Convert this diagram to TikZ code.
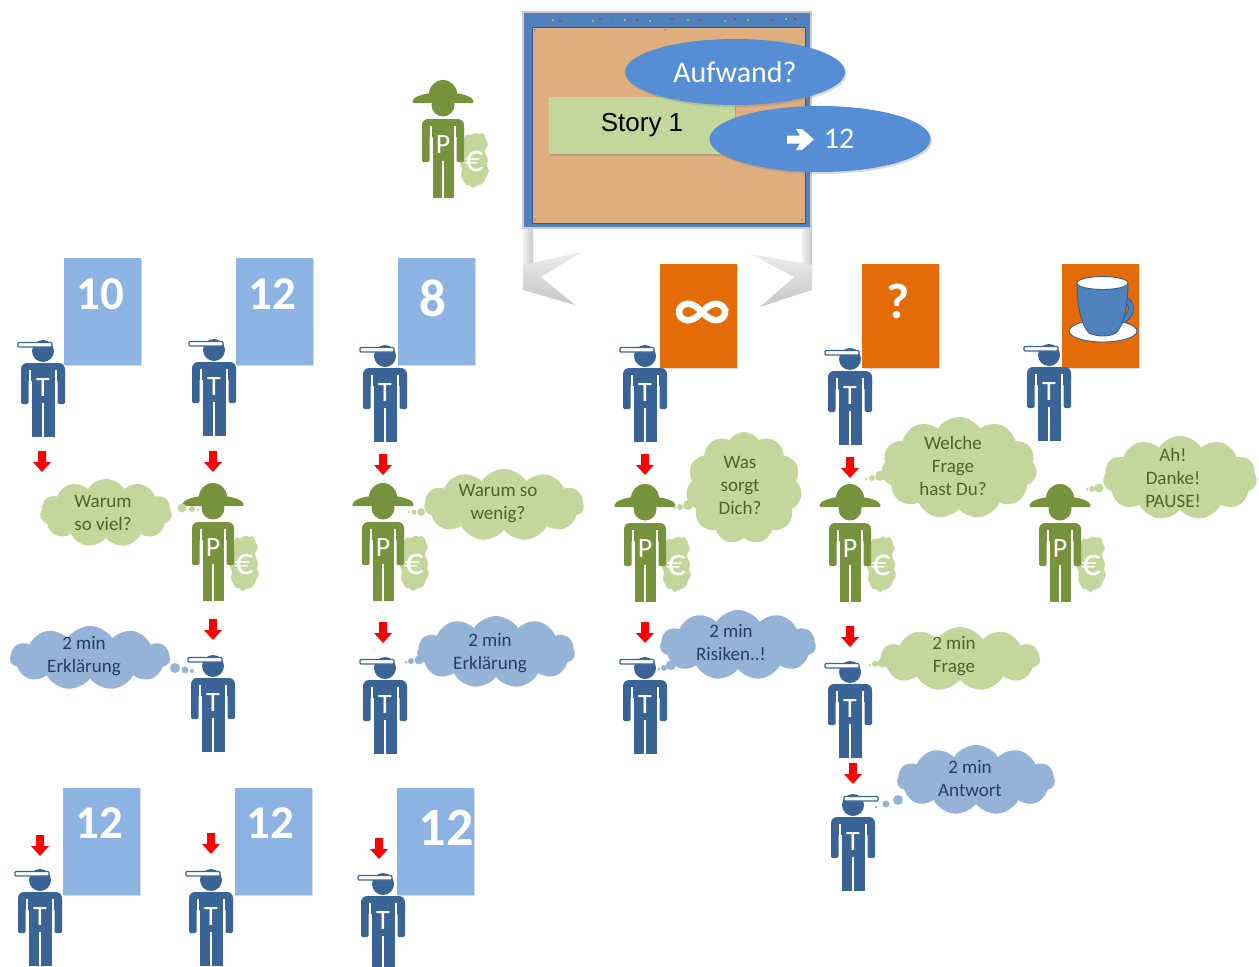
\documentclass[tikz,border=0pt]{standalone}
\usepackage{fontspec}
\setmainfont{Carlito}
\newfontfamily\arialfont{Liberation Sans}
\usetikzlibrary{shapes.symbols,shapes.geometric,shadows,calc}

\definecolor{tblue}{HTML}{3B6496}
\definecolor{pgreen}{HTML}{76923C}
\definecolor{lgreen}{HTML}{C3D69B}
\definecolor{lblue}{HTML}{95B3D7}
\definecolor{cardblue}{HTML}{8DB3E2}
\definecolor{cardorange}{HTML}{E36C09}
\definecolor{eblue}{HTML}{558ED5}
\definecolor{boardblue}{HTML}{4F81BD}
\definecolor{cork}{HTML}{DFAE7E}
\definecolor{gtext}{HTML}{4F6228}
\definecolor{btext}{HTML}{244061}
\definecolor{cupedge}{HTML}{385D8A}

\tikzset{
  % team member with cap
  tman/.pic={
    \fill[tblue] (0,0) circle (11);
    \fill[tblue, rounded corners=6] (-22,12) rectangle (22,30);
    \fill[tblue, rounded corners=1.5] (-22,20) rectangle (-14.5,53);
    \fill[tblue, rounded corners=1.5] (14.5,20) rectangle (22,53);
    \fill[tblue] (-11.5,14) rectangle (11.5,86);
    \draw[white, line width=1.6] (-13,19) -- (-13,54) (13,19) -- (13,54);
    \draw[white, line width=1.4] (0,52) -- (0,87);
    \draw[tblue, fill=white, line width=1.3, rounded corners=1] (-25,-8.5) rectangle (9,-4);
    \node[white, font=\fontsize{28}{28}\selectfont] (-letter) at (0,37) {T};
  },
  % product owner with hat and money
  pman/.pic={
    \fill[lgreen]
      plot[smooth cycle, tension=0.6] coordinates {(30,29) (33,27.5) (36,29) (39,28) (42,31) (43,35) (45,40) (42,45) (43,50)
        (45,55) (44,61) (46,66) (43,72) (41,77) (37,80) (33,81) (30,83) (26,80) (23,80) (20,75) (18,70) (19,64)
        (17,58) (18,52) (16,46) (18,41) (17,36) (21,33) (23,30) (27,30)};
    \node[white, font=\fontsize{38}{38}\selectfont] (-euro) at (31,57) {€};
    \fill[pgreen] (0,0) circle (11.5);
    \fill[pgreen] (-14,-11) arc (180:360:14 and 14) -- cycle;
    \fill[pgreen, rounded corners=2] (-31,-2) -- (-30,-6) .. controls (-22,-11) and (-12,-12.5) .. (0,-12.5)
       .. controls (12,-12.5) and (22,-11) .. (30,-6) -- (31,-2) -- cycle;
    \fill[pgreen, rounded corners=6] (-21,14) rectangle (21,32);
    \fill[pgreen, rounded corners=1.5] (-21,22) rectangle (-13.5,57);
    \fill[pgreen, rounded corners=1.5] (13.5,22) rectangle (21,57);
    \fill[pgreen] (-10.5,16) rectangle (10.5,93);
    \draw[white, line width=1.6] (-12,21) -- (-12,58) (12,21) -- (12,58);
    \draw[white, line width=1.4] (0,56) -- (0,94);
    \node[white, font=\fontsize{28}{28}\selectfont] (-letter) at (0,40) {P};
  },
  % red downward block arrow, origin at the top
  rarrow/.pic={
    \fill[red] (-4,0) -- (4,0) -- (4,11) -- (9,11) -- (0,21) -- (-9,11) -- (-4,11) -- cycle;
  },
  bluecard/.style={rectangle, fill=cardblue, inner sep=0pt, minimum width=77, minimum height=107,
    drop shadow={opacity=0.3, shadow xshift=1.2pt, shadow yshift=-1.2pt}},
  orangecard/.style={rectangle, fill=cardorange, inner sep=0pt, minimum width=77, minimum height=104,
    drop shadow={opacity=0.3, shadow xshift=1.2pt, shadow yshift=-1.2pt}},
  cardnum/.style={white, font=\bfseries\fontsize{#1}{#1}\selectfont},
  gcloud/.style={cloud, cloud puffs=11, cloud puff arc=115, cloud ignores aspect, fill=lgreen, inner sep=0pt},
  bcloud/.style={cloud, cloud puffs=11, cloud puff arc=115, cloud ignores aspect, fill=lblue, inner sep=0pt},
  gtxt/.style={gtext, align=center, font=\fontsize{19}{23}\selectfont},
  btxt/.style={btext, align=center, font=\fontsize{19}{23}\selectfont},
  bubg/.style={fill=lgreen},
  bubb/.style={fill=lblue},
}

\begin{document}
\begin{tikzpicture}[x=1pt,y=-1pt]
\useasboundingbox (0,0) rectangle (1259,967);

% ---------- board ----------
\shade[left color=gray!10, right color=gray!45] (523,226) rectangle (533,280);
\shade[left color=gray!10, right color=gray!45] (802,226) rectangle (812,280);
\shade[top color=gray!15, bottom color=gray!45] (523,265) -- (582,252) -- (541,277) -- (575,305) -- (523,290) -- cycle;
\shade[top color=gray!15, bottom color=gray!45] (812,265) -- (750,254) -- (794,277) -- (760,307) -- (812,290) -- cycle;
\node[rectangle, fill=boardblue, draw=gray!40, line width=1.2, inner sep=0pt, minimum width=288, minimum height=216] (board) at (667,120) {};
\node[rectangle, fill=cork, draw=boardblue!70!black, line width=0.6, inner sep=0pt, minimum width=273, minimum height=196] (corkarea) at (668.5,125) {};
\foreach \x/\c in {553/yellow,560/red,575/green!70!black,593/yellow,600/red,612/green!70!black,625/yellow,637/red,650/yellow,663/green!70!black,672/red,688/yellow,700/red,712/green!70!black,725/yellow,735/red,748/yellow,760/green!70!black,772/red,786/yellow,795/red}
  \fill[\c] (\x,{19+mod(\x,3)}) circle (0.9);
\foreach \p in {(535,30),(665,30),(802,30),(535,220),(802,220)}
  \fill[gray] \p circle (0.8);

\node[rectangle, fill=lgreen, inner sep=0pt, minimum width=186, minimum height=57,
  drop shadow={opacity=0.35, shadow xshift=1pt, shadow yshift=-1.5pt},
  font=\arialfont\fontsize{26}{26}\selectfont] (story) at (642,125.5) {Story 1};
\node[ellipse, fill=eblue, inner sep=0pt, minimum width=220, minimum height=66,
  drop shadow={opacity=0.3, shadow xshift=1.5pt, shadow yshift=-2pt},
  text=white, font=\fontsize{30}{30}\selectfont] (aufwand) at (735,72) {Aufwand?};
\node[ellipse, fill=eblue, inner sep=0pt, minimum width=221, minimum height=66,
  drop shadow={opacity=0.3, shadow xshift=1.5pt, shadow yshift=-2pt}] (estimate) at (820,139) {};
\node[text=white, font=\fontsize{30}{30}\selectfont] (estval) at (839,139) {12};
% heavy arrow in front of the estimate
\fill[white] (787,135.5) -- (800,135.5) -- (796,129) -- (802,129) -- (814,139.5) -- (802,150) -- (796,150) -- (800,143.5) -- (787,143.5) -- cycle;

% product owner at the board
\pic (po) at (443,105) {pman};

% ---------- cards ----------
\node[bluecard] (k1) at (102,311.5) {};
\node[cardnum=47] (k1n) at (100,294) {10};
\node[bluecard] (k2) at (274,311.5) {};
\node[cardnum=47] (k2n) at (272,294) {12};
\node[bluecard] (k3) at (436.5,311.5) {};
\node[cardnum=53] (k3n) at (433,298) {8};
\node[orangecard] (k4) at (698.5,316) {};
\draw[white, line width=6.5] plot[domain=0:360, samples=90, smooth cycle, variable=\t]
  ({702+23*cos(\t)/(1+(sin(\t))^2)}, {312+23*sin(\t)*cos(\t)/(1+(sin(\t))^2)});
\node[orangecard] (k5) at (900.5,316) {};
\node[cardnum=50] (k5n) at (898,301) {?};
\node[orangecard] (k6) at (1100.5,316) {};
% coffee cup
\draw[cupedge, fill=white, line width=0.9] (1103,331) ellipse (34 and 11);
\draw[cupedge, line width=6] (1121,299) .. controls (1135,299) and (1135,319) .. (1117,322);
\draw[boardblue, line width=4] (1121,299) .. controls (1135,299) and (1135,319) .. (1117,322);
\draw[cupedge, fill=boardblue, line width=0.9] (1077,283) .. controls (1077,308) and (1082,326) .. (1089,333)
  .. controls (1098,337) and (1108,337) .. (1116,333) .. controls (1123,326) and (1128,308) .. (1128,283) -- cycle;
\draw[cupedge, fill=white, line width=0.9] (1102.5,283) ellipse (25.5 and 6.5);

\node[bluecard] (k7) at (101,841.5) {};
\node[cardnum=47] (k7n) at (99,823) {12};
\node[bluecard] (k8) at (273,841.5) {};
\node[cardnum=47] (k8n) at (270,823) {12};
\node[bluecard] (k9) at (435.5,841.5) {};
\node[cardnum=54] (k9n) at (446,828) {12};

% ---------- people ----------
\pic (t1) at (43,351) {tman};
\pic (t2) at (214,350) {tman};
\pic (t3) at (385,356) {tman};
\pic (t4) at (645,356) {tman};
\pic (t5) at (850,359) {tman};
\pic (t6) at (1049,355) {tman};

\pic (p1) at (213,508) {pman};
\pic (p2) at (383,508) {pman};
\pic (p3) at (645,509) {pman};
\pic (p4) at (850,509) {pman};
\pic (p5) at (1060,509) {pman};

\pic (t7) at (213,666) {tman};
\pic (t8) at (385,668) {tman};
\pic (t9) at (645,668) {tman};
\pic (t10) at (850,672) {tman};
\pic[xscale=-1] (t11) at (853,805) {tman};

\pic (t12) at (40,880) {tman};
\pic (t13) at (211,880) {tman};
\pic (t14) at (383,884) {tman};

% ---------- arrows ----------
\foreach \x/\y in {42/451, 213/451, 383/454, 645/454, 850/457,
                   213/619, 383/622, 645/622, 850/626, 853/763,
                   40/835, 211/833, 379/838}
  \pic at (\x,\y) {rarrow};

% ---------- thought clouds ----------
\node[gcloud, minimum width=132, minimum height=68] (c1) at (106,513) {};
\node[gtxt] (c1t) at (103,513) {Warum\\so viel?};
\foreach \p/\r in {(182,508)/4.5, (192,509)/3, (198,510)/1.5} \fill[bubg] \p circle (\r);

\node[gcloud, minimum width=160, minimum height=72] (c2) at (504,505) {};
\node[gtxt] (c2t) at (498,504) {Warum so\\wenig?};
\foreach \p/\r in {(421,512)/4, (414,512)/2.5, (409,512)/1.3} \fill[bubg] \p circle (\r);

\node[gcloud, minimum width=116, minimum height=112] (c3) at (744,488) {};
\node[gtxt] (c3t) at (740,485) {Was\\sorgt\\Dich?};
\foreach \p/\r in {(688,505)/5, (680,507)/3, (675,507)/1.5} \fill[bubg] \p circle (\r);

\node[gcloud, minimum width=156, minimum height=102] (c4) at (959,468) {};
\node[gtxt] (c4t) at (953,466) {Welche\\Frage\\hast Du?};
\foreach \p/\r in {(880,476)/5, (872,478)/3, (866,479)/1.5} \fill[bubg] \p circle (\r);

\node[gcloud, minimum width=154, minimum height=84] (c5) at (1180,478) {};
\node[gtxt] (c5t) at (1173,478) {Ah!\\Danke!\\PAUSE!};
\foreach \p/\r in {(1099,488)/4.5, (1092,489)/3, (1087,489)/1.5} \fill[bubg] \p circle (\r);

\node[bcloud, minimum width=160, minimum height=64] (c6) at (90,658) {};
\node[btxt] (c6t) at (84,656) {2 min\\Erklärung};
\foreach \p/\r in {(175,668)/5, (185,670)/3.5, (192,671)/2} \fill[bubb] \p circle (\r);

\node[bcloud, minimum width=158, minimum height=72] (c7) at (496,652) {};
\node[btxt] (c7t) at (490,653) {2 min\\Erklärung};
\foreach \p/\r in {(419,660)/4.5, (411,661)/3, (406,662)/1.5} \fill[bubb] \p circle (\r);

\node[bcloud, minimum width=156, minimum height=70] (c8) at (738,645) {};
\node[btxt] (c8t) at (731,643) {2 min\\Risiken..!};
\foreach \p/\r in {(671,665)/5, (664,668)/3, (659,669)/1.5} \fill[bubb] \p circle (\r);

\node[gcloud, minimum width=160, minimum height=64] (c9) at (960,659) {};
\node[gtxt] (c9t) at (954,656) {2 min\\Frage};
\foreach \p/\r in {(882,663)/4.5, (875,664)/3, (870,665)/1.5} \fill[bubg] \p circle (\r);

\node[bcloud, minimum width=158, minimum height=70] (c10) at (976,780) {};
\node[btxt] (c10t) at (970,779) {2 min\\Antwort};
\foreach \p/\r in {(898,800)/5, (886,804)/3.5, (876,807)/1.5} \fill[bubb] \p circle (\r);

\end{tikzpicture}
\end{document}
